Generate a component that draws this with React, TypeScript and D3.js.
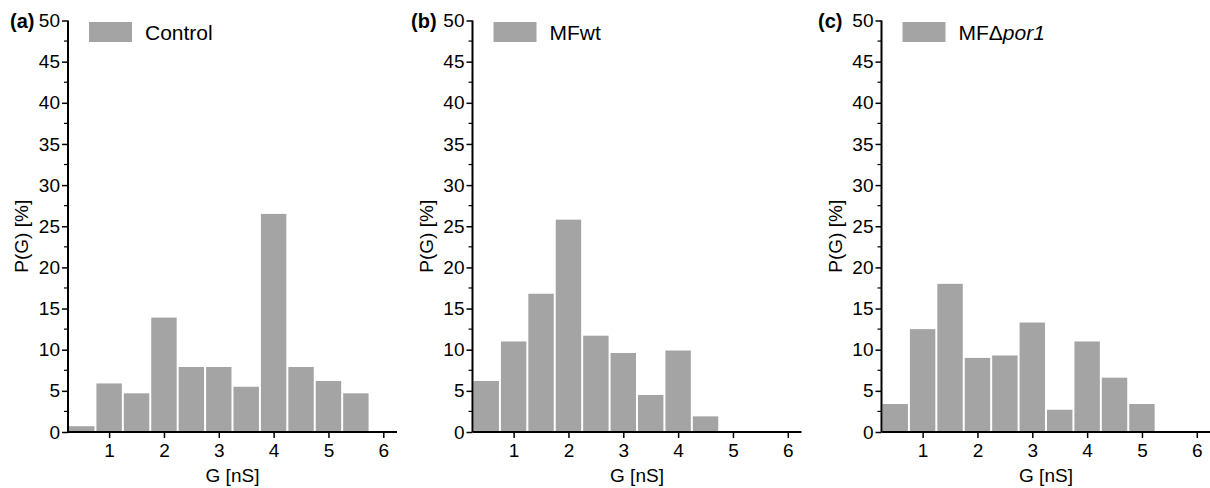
import React, { useEffect, useRef } from 'react';
import * as d3 from 'd3';

// bin centres (G in nS), bin width 0.5
const binCenters = [0.5, 1, 1.5, 2, 2.5, 3, 3.5, 4, 4.5, 5, 5.5];
const binWidth = 0.5;

const controlValues = [0.7, 5.9, 4.7, 13.9, 7.9, 7.9, 5.5, 26.5, 7.9, 6.2, 4.7];
const mfwtValues = [6.2, 11.0, 16.8, 25.8, 11.7, 9.6, 4.5, 9.9, 1.9];
const mfPor1Values = [3.4, 12.5, 18.0, 9.0, 9.3, 13.3, 2.7, 11.0, 6.6, 3.4];

const panelLetters = ['(a)', '(b)', '(c)'];
const legendNames = ['Control', 'MFwt', 'MF\u0394'];
const legendItalic = ['', '', 'por1'];

const xTicks = [1, 2, 3, 4, 5, 6];
const yTicks = [0, 5, 10, 15, 20, 25, 30, 35, 40, 45, 50];
const yMinorTicks = [2.5, 7.5, 12.5, 17.5, 22.5, 27.5, 32.5, 37.5, 42.5, 47.5];

const xAxisTitle = 'G [nS]';
const yAxisTitle = 'P(G) [%]';

export default function App() {
  const ref = useRef<SVGSVGElement | null>(null);

  useEffect(() => {
    if (!ref.current) return;
    const svg = d3.select(ref.current);
    svg.selectAll('*').remove();

    const font = "'Liberation Sans', Arial, sans-serif";
    const barColor = '#a4a4a4';
    const top = 20.5;
    const bottom = 432;
    const plotW = 329;
    const axisLefts = [68, 472.5, 881.5];
    const letterX = [10, 411, 818];
    const series = [controlValues, mfwtValues, mfPor1Values];

    const y = d3.scaleLinear().domain([0, 50]).range([bottom, top]);

    series.forEach((values, i) => {
      const left = axisLefts[i];
      const x = d3.scaleLinear().domain([0.25, 6.25]).range([left, left + plotW]);
      const g = svg.append('g');

      // bars
      g.selectAll('rect.bar')
        .data(values)
        .enter()
        .append('rect')
        .attr('class', 'bar')
        .attr('x', (d, j) => x(binCenters[j] - binWidth / 2) + 1)
        .attr('width', (d, j) => x(binCenters[j] + binWidth / 2) - x(binCenters[j] - binWidth / 2) - 2)
        .attr('y', (d) => y(d))
        .attr('height', (d) => y(0) - y(d))
        .attr('fill', barColor);

      // y axis
      const yAxis = g
        .append('g')
        .attr('transform', `translate(${left},0)`)
        .call(d3.axisLeft(y).tickValues(yTicks).tickSize(6).tickPadding(2).tickFormat(d3.format('d')));
      yAxis.select('.domain').attr('stroke-width', 2).attr('d', `M0,${bottom}V${top}`);
      yAxis.selectAll('.tick line').attr('stroke-width', 1.5);
      yAxis
        .selectAll('.tick text')
        .attr('font-family', font)
        .attr('font-size', 19)
        .attr('fill', '#000');

      g.append('g')
        .selectAll('line')
        .data(yMinorTicks)
        .enter()
        .append('line')
        .attr('x1', left - 4)
        .attr('x2', left)
        .attr('y1', (d) => y(d))
        .attr('y2', (d) => y(d))
        .attr('stroke', '#000')
        .attr('stroke-width', 1.2);

      // x axis
      const xAxis = g
        .append('g')
        .attr('transform', `translate(0,${bottom})`)
        .call(d3.axisBottom(x).tickValues(xTicks).tickSize(6).tickPadding(6).tickFormat(d3.format('d')));
      xAxis.select('.domain').attr('stroke-width', 2).attr('d', `M${left},0H${left + plotW}`);
      xAxis.selectAll('.tick line').attr('stroke-width', 1.5);
      xAxis
        .selectAll('.tick text')
        .attr('font-family', font)
        .attr('font-size', 19)
        .attr('fill', '#000');

      // axis titles
      g.append('text')
        .attr('x', x(3.25))
        .attr('y', 482)
        .attr('text-anchor', 'middle')
        .attr('font-family', font)
        .attr('font-size', 19)
        .text(xAxisTitle);

      g.append('text')
        .attr('transform', `translate(${left - 40},${(top + bottom) / 2 + 10}) rotate(-90)`)
        .attr('text-anchor', 'middle')
        .attr('font-family', font)
        .attr('font-size', 19)
        .text(yAxisTitle);

      // panel letter
      g.append('text')
        .attr('x', letterX[i])
        .attr('y', 28)
        .attr('font-family', font)
        .attr('font-size', 20)
        .attr('font-weight', 'bold')
        .text(panelLetters[i]);

      // legend
      g.append('rect')
        .attr('x', left + 21)
        .attr('y', 22)
        .attr('width', 43)
        .attr('height', 20)
        .attr('fill', barColor);
      const lt = g
        .append('text')
        .attr('x', left + 77)
        .attr('y', 40)
        .attr('font-family', font)
        .attr('font-size', 21)
        .text(legendNames[i]);
      if (legendItalic[i]) {
        lt.append('tspan').attr('font-style', 'italic').text(legendItalic[i]);
      }
    });
  }, []);

  return (
    <svg
      ref={ref}
      width={1210}
      height={488}
      style={{ position: 'absolute', left: 0, top: 0, background: '#fff' }}
    />
  );
}
